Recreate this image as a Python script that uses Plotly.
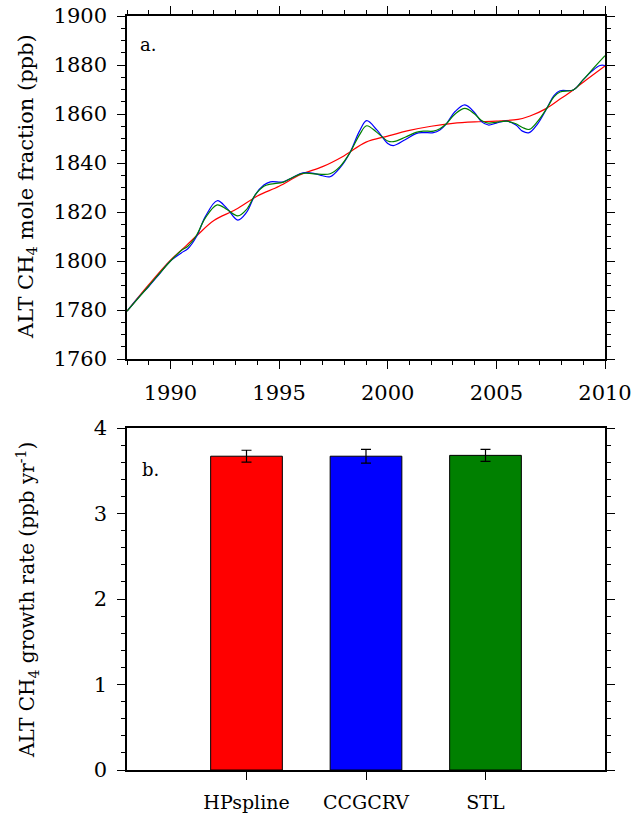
import plotly.graph_objects as go

# ---- Panel a: ALT CH4 deseasonalised trends ----
hp_years = [1988.0, 1989.0, 1990.0, 1990.75, 1991.24, 1992.0, 1993.0, 1994.0, 1995.0, 1996.0,
            1997.0, 1998.0, 1999.0, 2000.0, 2001.0, 2002.0, 2003.0, 2004.0, 2005.0, 2006.0,
            2006.55, 2007.31, 2008.0, 2008.54, 2009.0, 2010.0]
hp_values = [1779.5, 1790.3, 1800.3, 1806.5, 1810.6, 1816.5, 1821.0, 1826.5, 1830.5, 1835.3,
             1838.5, 1843.0, 1848.5, 1851.0, 1853.3, 1855.0, 1856.2, 1856.8, 1857.1, 1857.8,
             1859.2, 1862.3, 1866.5, 1869.8, 1873.0, 1879.6]

cc_years = [1988.0, 1988.5, 1989.0, 1989.5, 1990.0, 1990.5, 1990.8, 1991.2, 1991.6, 1992.15,
            1992.6, 1993.1, 1993.5, 1993.9, 1994.3, 1994.6, 1995.2, 1995.6, 1996.1, 1996.6,
            1997.0, 1997.35, 1997.8, 1998.26, 1998.7, 1999.03, 1999.5, 2000.0, 2000.26, 2000.8,
            2001.3, 2001.64, 2002.1, 2002.4, 2002.7, 2003.1, 2003.55, 2004.0, 2004.3, 2004.63,
            2005.0, 2005.47, 2005.9, 2006.2, 2006.51, 2006.9, 2007.34, 2007.65, 2007.93, 2008.54,
            2009.0, 2009.4, 2009.77, 2010.0]
cc_values = [1779.5, 1784.8, 1789.6, 1794.8, 1800.0, 1803.3, 1805.0, 1810.0, 1818.0, 1824.6,
             1821.5, 1816.7, 1819.8, 1827.0, 1831.0, 1832.3, 1832.3, 1834.0, 1836.0, 1835.8,
             1834.8, 1834.4, 1838.0, 1844.2, 1853.0, 1857.3, 1853.5, 1848.0, 1847.1, 1849.5,
             1852.0, 1852.4, 1852.4, 1853.5, 1856.0, 1861.0, 1863.7, 1860.5, 1857.0, 1855.5,
             1856.3, 1857.1, 1855.5, 1853.0, 1852.4, 1856.0, 1862.6, 1867.5, 1869.5, 1869.8,
             1874.0, 1877.5, 1879.8, 1879.8]

stl_years = [1988.0, 1989.0, 1990.0, 1990.5, 1990.8, 1991.2, 1991.6, 1992.15, 1992.6, 1993.1,
             1993.5, 1993.9, 1994.3, 1994.6, 1995.2, 1995.6, 1996.1, 1996.6, 1997.35, 1997.8,
             1998.26, 1998.7, 1999.03, 1999.5, 2000.0, 2000.26, 2000.8, 2001.3, 2001.64, 2002.1,
             2002.4, 2002.7, 2003.1, 2003.55, 2004.0, 2004.3, 2004.63, 2005.0, 2005.47, 2005.9,
             2006.2, 2006.51, 2006.9, 2007.34, 2007.65, 2007.93, 2008.54, 2009.0, 2009.4, 2010.0]
stl_values = [1779.5, 1789.8, 1800.0, 1804.3, 1806.0, 1810.5, 1817.5, 1822.9, 1821.0, 1818.4,
              1821.0, 1827.0, 1830.5, 1831.4, 1832.2, 1834.0, 1835.8, 1835.6, 1835.6, 1838.5,
              1844.2, 1851.5, 1855.2, 1852.5, 1849.0, 1848.7, 1850.5, 1852.5, 1853.0, 1853.0,
              1854.0, 1856.0, 1860.0, 1862.3, 1860.0, 1857.5, 1856.3, 1856.6, 1857.1, 1856.0,
              1854.5, 1853.7, 1857.0, 1862.6, 1867.0, 1869.0, 1869.8, 1874.0, 1878.0, 1883.8]

x_tick_vals = [1990, 1995, 2000, 2005, 2010]
y_tick_vals_a = [1760, 1780, 1800, 1820, 1840, 1860, 1880, 1900]

# ---- Panel b: growth rates ----
methods = ["HPspline", "CCGCRV", "STL"]
method_pos = [1, 2, 3]
growth = [3.67, 3.67, 3.68]
growth_err = [0.07, 0.08, 0.07]
bar_colors = ["#FF0000", "#0000FF", "#008000"]
y_tick_vals_b = [0, 1, 2, 3, 4]

# the body margin is removed by a post script, so the figure fills the window exactly
W, H = 633, 816
OFF = 0
FONT = "DejaVu Serif"


def px(X):
    return (X - OFF) / W


def py(Y):
    return 1 - (Y - OFF) / H


AX = dict(showline=True, linecolor="black", linewidth=1.6, ticks="outside",
          tickcolor="black", tickwidth=1.4, ticklen=8, showgrid=False, zeroline=False,
          automargin=False, ticklabeloverflow="allow",
          tickfont=dict(family=FONT, size=21, color="black"))

fig = go.Figure()
fig.add_trace(go.Scatter(x=hp_years, y=hp_values, mode="lines", name="HPspline",
                         line=dict(color="#FF0000", width=1.2, shape="spline", smoothing=1.0),
                         xaxis="x", yaxis="y"))
fig.add_trace(go.Scatter(x=cc_years, y=cc_values, mode="lines", name="CCGCRV",
                         line=dict(color="#0000FF", width=1.2, shape="spline", smoothing=1.0),
                         xaxis="x", yaxis="y"))
fig.add_trace(go.Scatter(x=stl_years, y=stl_values, mode="lines", name="STL",
                         line=dict(color="#008000", width=1.2, shape="spline", smoothing=1.0),
                         xaxis="x", yaxis="y"))

fig.add_trace(go.Bar(x=method_pos, y=growth, width=0.6,
                     marker=dict(color=bar_colors, line=dict(color="black", width=1)),
                     error_y=dict(type="data", array=growth_err, color="black",
                                  thickness=1.2, width=5),
                     xaxis="x2", yaxis="y2"))

xd = [px(127), px(605)]
fig.update_layout(
    width=W, height=H, margin=dict(l=0, r=0, t=0, b=0, autoexpand=False),
    paper_bgcolor="white", plot_bgcolor="white", showlegend=False,
    xaxis=dict(AX, domain=xd, range=[1988, 2010], tickvals=x_tick_vals,
               mirror="ticks", anchor="y", ticklabelstandoff=6,
               minor=dict(dtick=1, tick0=1988, ticklen=4, tickwidth=1.2,
                          tickcolor="black", ticks="outside")),
    yaxis=dict(AX, domain=[py(359), py(16)], range=[1760, 1900],
               tickvals=y_tick_vals_a, mirror="ticks", anchor="x", ticklabelstandoff=6,
               minor=dict(dtick=5, tick0=1760, ticklen=4, tickwidth=1.2,
                          tickcolor="black", ticks="outside")),
    xaxis2=dict(AX, domain=xd, range=[0, 4], tickvals=method_pos, ticktext=methods,
                mirror=True, anchor="y2", ticklabelstandoff=6,
                tickfont=dict(family=FONT, size=19, color="black")),
    yaxis2=dict(AX, domain=[py(770), py(428)], range=[0, 4],
                tickvals=y_tick_vals_b, mirror="ticks", anchor="x2", ticklabelstandoff=6,
                minor=dict(dtick=0.2, tick0=0, ticklen=4, tickwidth=1.2,
                           tickcolor="black", ticks="outside")),
)

fig.add_annotation(text="ALT CH<sub>4</sub> mole fraction (ppb)", xref="paper", yref="paper",
                   x=px(27), y=py(187), textangle=-90, showarrow=False,
                   xanchor="center", yanchor="middle",
                   font=dict(family=FONT, size=21, color="black"))
fig.add_annotation(text="ALT CH<sub>4</sub> growth rate (ppb yr<sup>-1</sup>)", xref="paper",
                   yref="paper", x=px(27), y=py(600), textangle=-90, showarrow=False,
                   xanchor="center", yanchor="middle",
                   font=dict(family=FONT, size=20, color="black"))
fig.add_annotation(text="a.", xref="paper", yref="paper", x=px(148), y=py(44),
                   showarrow=False, xanchor="center", yanchor="middle",
                   font=dict(family=FONT, size=18, color="black"))
fig.add_annotation(text="b.", xref="paper", yref="paper", x=px(150), y=py(470),
                   showarrow=False, xanchor="center", yanchor="middle",
                   font=dict(family=FONT, size=18, color="black"))

fig.write_html(
    "out.html",
    config={"displayModeBar": False},
    post_script="document.body.style.margin='0';document.body.style.overflow='hidden';",
)
